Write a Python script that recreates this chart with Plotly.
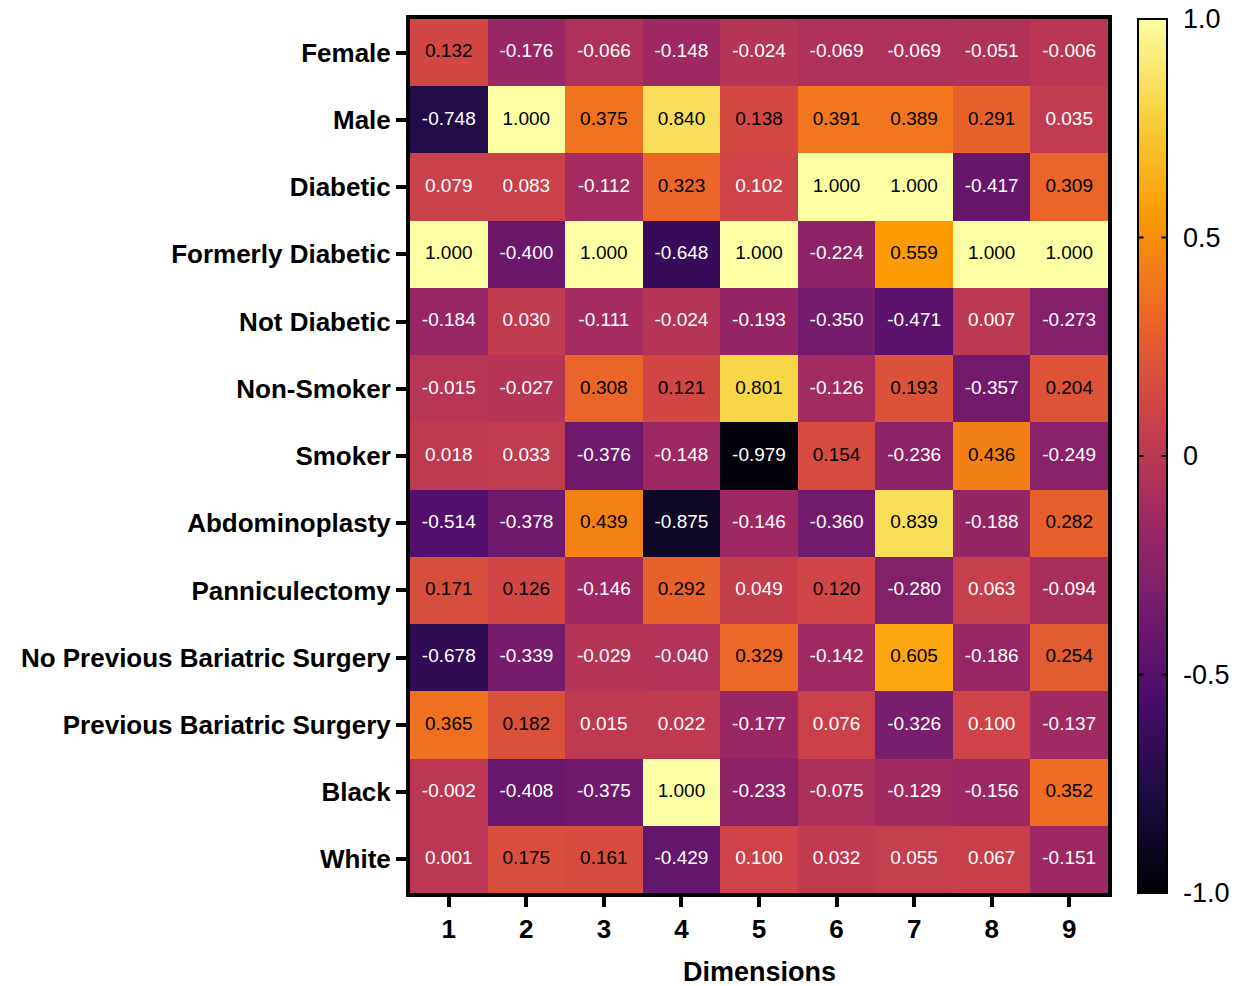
import plotly.graph_objects as go

# Factor loadings per variable across the nine dimensions
variables = [
    "Female", "Male", "Diabetic", "Formerly Diabetic", "Not Diabetic",
    "Non-Smoker", "Smoker", "Abdominoplasty", "Panniculectomy",
    "No Previous Bariatric Surgery", "Previous Bariatric Surgery", "Black", "White",
]
dimensions = ["1", "2", "3", "4", "5", "6", "7", "8", "9"]

female = [0.132, -0.176, -0.066, -0.148, -0.024, -0.069, -0.069, -0.051, -0.006]
male = [-0.748, 1.000, 0.375, 0.840, 0.138, 0.391, 0.389, 0.291, 0.035]
diabetic = [0.079, 0.083, -0.112, 0.323, 0.102, 1.000, 1.000, -0.417, 0.309]
formerly_diabetic = [1.000, -0.400, 1.000, -0.648, 1.000, -0.224, 0.559, 1.000, 1.000]
not_diabetic = [-0.184, 0.030, -0.111, -0.024, -0.193, -0.350, -0.471, 0.007, -0.273]
non_smoker = [-0.015, -0.027, 0.308, 0.121, 0.801, -0.126, 0.193, -0.357, 0.204]
smoker = [0.018, 0.033, -0.376, -0.148, -0.979, 0.154, -0.236, 0.436, -0.249]
abdominoplasty = [-0.514, -0.378, 0.439, -0.875, -0.146, -0.360, 0.839, -0.188, 0.282]
panniculectomy = [0.171, 0.126, -0.146, 0.292, 0.049, 0.120, -0.280, 0.063, -0.094]
no_prev_bariatric = [-0.678, -0.339, -0.029, -0.040, 0.329, -0.142, 0.605, -0.186, 0.254]
prev_bariatric = [0.365, 0.182, 0.015, 0.022, -0.177, 0.076, -0.326, 0.100, -0.137]
black = [-0.002, -0.408, -0.375, 1.000, -0.233, -0.075, -0.129, -0.156, 0.352]
white = [0.001, 0.175, 0.161, -0.429, 0.100, 0.032, 0.055, 0.067, -0.151]

z = [female, male, diabetic, formerly_diabetic, not_diabetic, non_smoker, smoker,
     abdominoplasty, panniculectomy, no_prev_bariatric, prev_bariatric, black, white]

cbar_tickvals = [1.0, 0.5, 0.0, -0.5, -1.0]
cbar_ticktext = ["1.0", "0.5", "0", "-0.5", "-1.0"]

FONT = "Liberation Sans, Arial, sans-serif"
CBAR_X = 1.043      # left edge of the colour bar, paper units
CBAR_W = 29         # colour bar thickness, px

fig = go.Figure()
fig.add_trace(go.Heatmap(
    z=z, x=dimensions, y=variables,
    colorscale="Inferno", zmin=-1, zmax=1,
    hoverinfo="skip",
    colorbar=dict(
        x=CBAR_X, xanchor="left", xref="paper",
        y=0.5, yanchor="middle", len=1.0, lenmode="fraction",
        thickness=CBAR_W, outlinecolor="black", outlinewidth=2,
        tickvals=cbar_tickvals, ticktext=cbar_ticktext,
        ticks="outside", ticklen=10, tickwidth=1, tickcolor="rgba(0,0,0,0)",
        tickfont=dict(family=FONT, size=27, color="black"),
        ypad=0, xpad=0,
    ),
))

# Cell value labels: dark text on bright cells, white text on dark cells
tx, ty, tt, tc = [], [], [], []
for r, name in enumerate(variables):
    for c, dim in enumerate(dimensions):
        v = z[r][c]
        tx.append(dim)
        ty.append(name)
        tt.append(f"{v:.3f}")
        tc.append("black" if v > 0.11 else "white")

fig.add_trace(go.Scatter(
    x=tx, y=ty, text=tt, mode="text",
    textfont=dict(family=FONT, size=19, color=tc),
    hoverinfo="skip", showlegend=False,
))

annotations = [dict(
    text="Dimensions", xref="paper", yref="paper", x=0.5, y=-0.0905,
    xanchor="center", yanchor="middle", showarrow=False,
    font=dict(family=FONT, size=27, color="black", weight="bold"),
)]

# Short tick marks on both inner edges of the colour bar
cbar_left = CBAR_X
cbar_right = CBAR_X + CBAR_W / 698
for v in cbar_tickvals[1:-1]:
    yf = (v + 1) / 2
    for xe, dx in [(cbar_left, 7), (cbar_right, -7)]:
        annotations.append(dict(
            text="", xref="paper", yref="paper", x=xe, y=yf,
            showarrow=True, arrowhead=0, arrowwidth=2, arrowcolor="black",
            ax=dx, ay=0, axref="pixel", ayref="pixel", standoff=0, startstandoff=0,
        ))

fig.update_layout(
    width=1243, height=986,
    margin=dict(l=410, r=135, t=19, b=93),
    paper_bgcolor="white", plot_bgcolor="white",
    showlegend=False,
    font=dict(family=FONT, color="black"),
    annotations=annotations,
)
fig.update_xaxes(
    type="category", range=[-0.5, 8.5], automargin=False,
    showline=True, mirror=True, linecolor="black", linewidth=4,
    ticks="outside", ticklen=10, tickwidth=4, tickcolor="black",
    tickfont=dict(family=FONT, size=26, color="black", weight="bold"),
    showgrid=False, zeroline=False,
)
fig.update_yaxes(
    type="category", range=[12.5, -0.5], automargin=False,
    showline=True, mirror=True, linecolor="black", linewidth=4,
    ticks="outside", ticklen=10, tickwidth=4, tickcolor="black",
    tickfont=dict(family=FONT, size=26, color="black", weight="bold"),
    showgrid=False, zeroline=False,
)

fig.write_html("out.html")
